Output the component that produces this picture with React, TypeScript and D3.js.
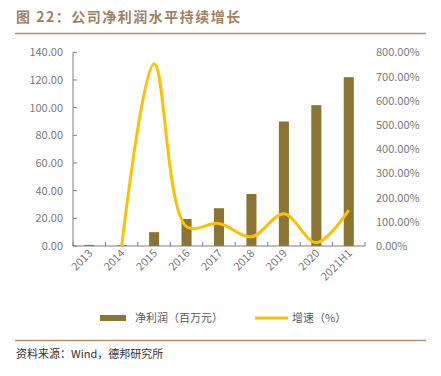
import React from "react";
import * as d3 from "d3";

const categories = ["2013", "2014", "2015", "2016", "2017", "2018", "2019", "2020", "2021H1"];
const profit = [0.8, 0.5, 10, 19.5, 27.3, 37.6, 90, 101.8, 122];
const growth: (number | null)[] = [null, 0, 753, 80, 93, 38, 133, 14, 148];
const leftTicks = [0, 20, 40, 60, 80, 100, 120, 140];
const rightTicks = [0, 100, 200, 300, 400, 500, 600, 700, 800];
const title = "图 22：公司净利润水平持续增长";
const source = "资料来源：Wind，德邦研究所";
const legendBar = "净利润（百万元）";
const legendLine = "增速（%）";

const W = 441, H = 376;
const L = 73, R = 365, T = 52.3, B = 246;
const font = "'Noto Sans CJK SC', 'Noto Sans', sans-serif";

export default function App() {
  const x = d3.scaleBand().domain(categories).range([L, R]).paddingInner(0).paddingOuter(0);
  const yl = d3.scaleLinear().domain([0, 140]).range([B, T]);
  const yr = d3.scaleLinear().domain([0, 800]).range([B, T]);
  const bw = x.bandwidth() * 0.31;
  const pts = categories
    .map((c, i) => ({ c, v: growth[i] }))
    .filter((d) => d.v !== null) as { c: string; v: number }[];
  const line = d3
    .line<{ c: string; v: number }>()
    .x((d) => (x(d.c) as number) + x.bandwidth() / 2)
    .y((d) => yr(d.v))
    .curve(d3.curveCatmullRom.alpha(0.5));
  const boundaries = categories.map((c) => x(c) as number).concat([R]);
  const axisColor = "#7f7f7f";
  const labelColor = "#7a7a7a";
  return (
    <svg width={W} height={H} style={{ position: "absolute", left: 0, top: 0 }}>
      <rect width={W} height={H} fill="#fff" />
      <text x={16} y={22} fontFamily={font} fontWeight="bold" fontSize={14} fill="#a5805f" letterSpacing={1.5}>
        {title}
      </text>
      <line x1={15} x2={426} y1={33.5} y2={33.5} stroke="#b89070" strokeWidth={1.5} />
      {/* bars */}
      {categories.map((c, i) => (
        <rect
          key={c}
          x={(x(c) as number) + x.bandwidth() / 2 - bw / 2}
          y={yl(profit[i])}
          width={bw}
          height={B - yl(profit[i])}
          fill="#8c7432"
        />
      ))}
      {/* left axis */}
      <line x1={L} x2={L} y1={T} y2={B} stroke={axisColor} strokeWidth={1} />
      {leftTicks.map((t) => (
        <g key={t}>
          <line x1={L} x2={L + 4} y1={yl(t)} y2={yl(t)} stroke={axisColor} />
          <text x={63} y={yl(t) + 4} textAnchor="end" fontFamily={font} fontSize={11} fill={labelColor}>
            {t.toFixed(2)}
          </text>
        </g>
      ))}
      {rightTicks.map((t) => (
        <text key={t} x={376} y={yr(t) + 4} textAnchor="start" fontFamily={font} fontSize={11} fill={labelColor}>
          {t.toFixed(2) + "%"}
        </text>
      ))}
      {/* x axis */}
      <line x1={L} x2={R} y1={B} y2={B} stroke={axisColor} />
      {boundaries.map((b, i) => (
        <line key={i} x1={b} x2={b} y1={B} y2={B - 4} stroke={axisColor} />
      ))}
      {categories.map((c) => {
        const cx = (x(c) as number) + x.bandwidth() / 2 + 4;
        const cy = 254;
        return (
          <text
            key={c}
            x={cx}
            y={cy}
            textAnchor="end"
            transform={`rotate(-45 ${cx} ${cy})`}
            fontFamily={font}
            fontSize={11}
            fill={labelColor}
          >
            {c}
          </text>
        );
      })}
      {/* growth line */}
      <path d={line(pts) || ""} fill="none" stroke="#ffc000" strokeWidth={3} />
      {/* legend */}
      <rect x={100} y={315} width={26} height={6} fill="#8c7432" />
      <text x={135} y={322} fontFamily={font} fontSize={11} fill="#595959">
        {legendBar}
      </text>
      <line x1={255} x2={288} y1={318} y2={318} stroke="#ffc000" strokeWidth={3} />
      <text x={292} y={322} fontFamily={font} fontSize={11} fill="#595959">
        {legendLine}
      </text>
      {/* footer */}
      <line x1={15} x2={426} y1={340.5} y2={340.5} stroke="#b89070" strokeWidth={1.5} />
      <text x={16} y={358} fontFamily={font} fontSize={11} fill="#333">
        {source}
      </text>
    </svg>
  );
}
